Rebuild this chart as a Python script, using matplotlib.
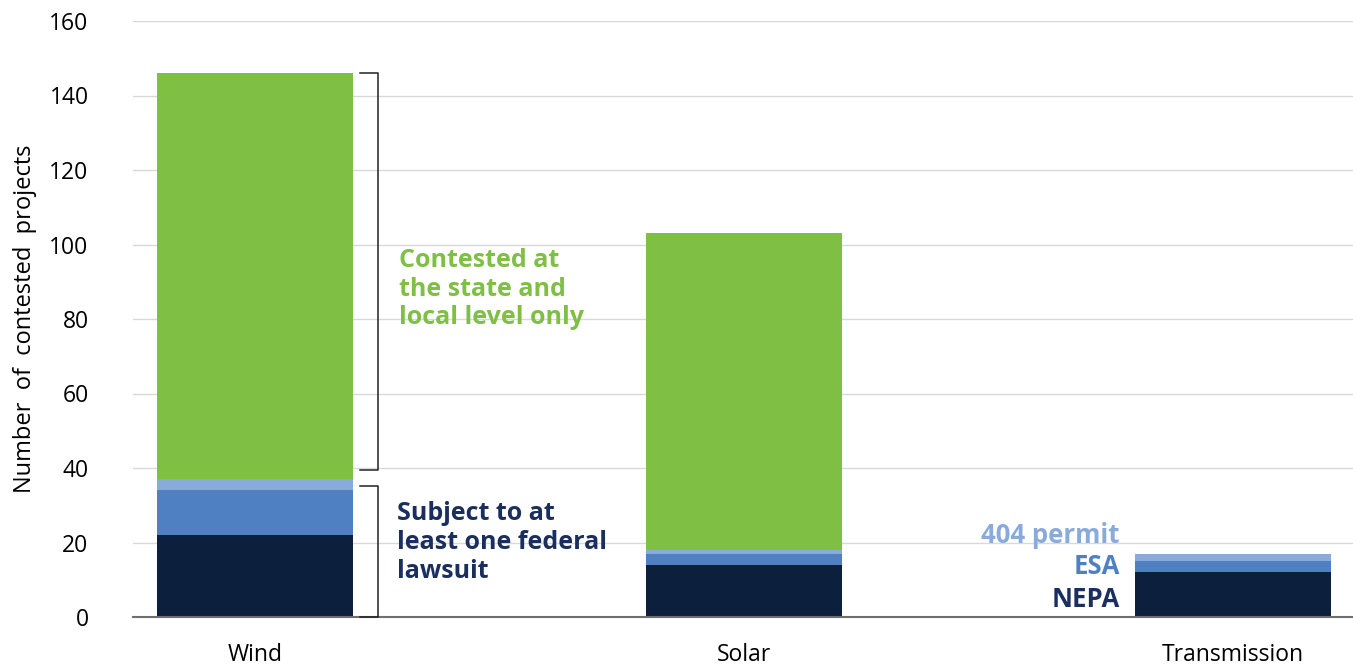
import numpy as np
import matplotlib.pyplot as plt

plt.rcParams['font.family'] = ['Open Sans', 'DejaVu Sans']

categories = ["Wind", "Solar", "Transmission"]
nepa = [22, 14, 12]
esa = [12, 3, 3]
permit404 = [3, 1, 2]
state_local = [109, 85, 0]

navy = "#0c1f3d"
blue = "#4f81c2"
light_blue = "#88abdc"
green = "#7fbf44"

fig = plt.figure(figsize=(13.53, 6.69), dpi=100)
ax = fig.add_axes([133 / 1353, 52 / 669, 1 - 133 / 1353, (617 - 21) / 669])

x = np.arange(len(categories))
w = 0.4
b1 = np.array(nepa)
b2 = b1 + np.array(esa)
b3 = b2 + np.array(permit404)
ax.bar(x, nepa, w, color=navy, zorder=2)
ax.bar(x, esa, w, bottom=b1, color=blue, zorder=2)
ax.bar(x, permit404, w, bottom=b2, color=light_blue, zorder=2)
ax.bar(x, state_local, w, bottom=b3, color=green, zorder=2)

ax.set_xlim(-0.25, 2.245)
ax.set_ylim(0, 160)
ax.set_yticks(np.arange(0, 161, 20))
ax.grid(axis='y', color='#d9d9d9', linewidth=1, zorder=0)
for s in ['top', 'right', 'left']:
    ax.spines[s].set_visible(False)
ax.spines['bottom'].set_color('#6f6f6f')
ax.spines['bottom'].set_linewidth(1.5)
ax.tick_params(axis='y', length=0, pad=32, labelsize=16.5)
ax.tick_params(axis='x', length=0, pad=19, labelsize=16.5)
ax.set_xticks(x)
ax.set_xticklabels(categories)
ax.set_ylabel("Number  of  contested  projects", fontsize=17, labelpad=9)


def bracket(y0, y1, x0=0.215, x1=0.252):
    ax.plot([x0, x1, x1, x0], [y1, y1, y0, y0], color='#222222', lw=1.1,
            clip_on=False, zorder=3, solid_joinstyle='round')


total_wind = b3[0] + state_local[0]
bracket(39.5, total_wind)
bracket(0, 35.3)

ax.text(0.295, 88, "Contested at\nthe state and\nlocal level only", color=green,
        fontsize=18, fontweight='bold', va='center', ha='left', linespacing=1.2)
ax.text(0.29, 20, "Subject to at\nleast one federal\nlawsuit", color='#1b2f5e',
        fontsize=18, fontweight='bold', va='center', ha='left', linespacing=1.2)

ax.text(1.768, 22, "404 permit", color=light_blue, fontsize=18.5, fontweight='bold',
        ha='right', va='center')
ax.text(1.768, 13.6, "ESA", color=blue, fontsize=18.5, fontweight='bold',
        ha='right', va='center')
ax.text(1.768, 4.6, "NEPA", color='#1b2f5e', fontsize=18.5, fontweight='bold',
        ha='right', va='center')

fig.savefig("out.png", dpi=100)
